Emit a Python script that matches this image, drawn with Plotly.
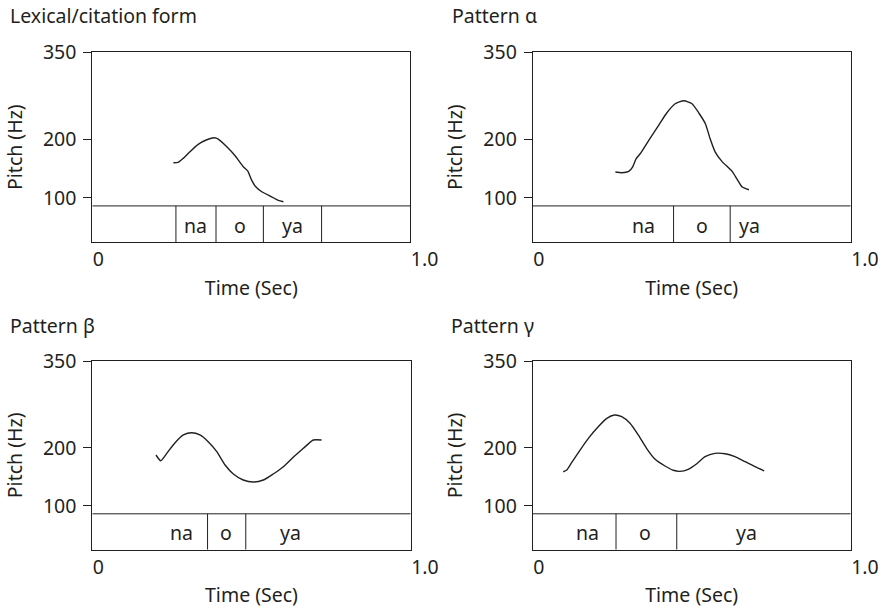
import plotly.graph_objects as go

# ---------------- data ----------------
panel_titles = ["Lexical/citation form", "Pattern α", "Pattern β", "Pattern γ"]

# pitch contours (time in s, pitch in Hz)
lex_t = [0.255, 0.270, 0.286, 0.307, 0.333, 0.360, 0.384, 0.396, 0.423, 0.449, 0.475,
         0.489, 0.501, 0.514, 0.533, 0.564, 0.585, 0.601]
lex_f = [160.2, 160.8, 167.7, 179.1, 191.8, 199.7, 203.1, 200.9, 187.7, 172.2, 153.3,
         145.9, 130.4, 118.9, 110.3, 101.7, 95.5, 93.1]

alpha_t = [0.260, 0.281, 0.302, 0.314, 0.325, 0.338, 0.365, 0.396, 0.422, 0.448, 0.475,
           0.501, 0.524, 0.543, 0.558, 0.574, 0.595, 0.627, 0.643, 0.659, 0.680]
alpha_f = [144.2, 143.0, 145.4, 152.8, 167.0, 175.6, 198.7, 224.4, 246.1, 261.6, 266.7,
           261.6, 244.4, 227.2, 201.4, 178.5, 162.6, 145.4, 131.6, 118.4, 113.8]

beta_t = [0.200, 0.215, 0.234, 0.260, 0.286, 0.312, 0.338, 0.364, 0.391, 0.417, 0.443,
          0.474, 0.506, 0.537, 0.568, 0.600, 0.631, 0.663, 0.694, 0.720]
beta_f = [187.6, 177.7, 190.5, 208.8, 222.2, 226.1, 222.2, 210.6, 193.3, 170.3, 154.8,
          144.4, 140.9, 144.4, 154.8, 167.4, 183.6, 199.2, 213.5, 213.5]

gamma_t = [0.096, 0.107, 0.123, 0.149, 0.175, 0.206, 0.233, 0.257, 0.280, 0.306, 0.332,
           0.358, 0.385, 0.416, 0.442, 0.463, 0.489, 0.516, 0.542, 0.573, 0.605, 0.636,
           0.668, 0.699, 0.728]
gamma_f = [158.7, 161.7, 175.0, 196.2, 216.4, 236.5, 251.0, 256.7, 253.8, 242.4, 222.2,
           199.2, 180.2, 168.6, 161.2, 159.4, 162.9, 172.6, 184.7, 190.5, 189.8, 184.7,
           176.0, 167.4, 160.0]

# segmentation tiers: boundaries and syllable labels (time in s)
lex_bounds = [0.263, 0.389, 0.538, 0.721]
alpha_bounds = [0.443, 0.621]
beta_bounds = [0.362, 0.482]
gamma_bounds = [0.262, 0.453]

syllables = ["na", "o", "ya"]
lex_label_t = [0.326, 0.463, 0.630]
alpha_label_t = [0.349, 0.532, 0.681]
beta_label_t = [0.281, 0.420, 0.623]
gamma_label_t = [0.173, 0.353, 0.672]

y_ticks = [100, 200, 350]
x_ticks = [0, 1]
x_ticktext = ["0", "1.0"]
y_min, y_max = 24, 350
tier_top = 86
tier_label_y = 53

# ---------------- layout ----------------
INK = "#231f20"
FONT = "Noto Sans"
FS = 19.5
W, H = 885, 609

contours = [(lex_t, lex_f), (alpha_t, alpha_f), (beta_t, beta_f), (gamma_t, gamma_f)]
bounds = [lex_bounds, alpha_bounds, beta_bounds, gamma_bounds]
label_ts = [lex_label_t, alpha_label_t, beta_label_t, gamma_label_t]

# pixel boxes (left, right, top, bottom)
boxes = [(92.3, 410.3, 52.3, 242.0), (532.7, 850.7, 52.3, 242.0),
         (92.3, 410.7, 361.0, 549.7), (532.7, 850.7, 361.0, 549.7)]
title_pos = [(8, 16), (450, 16), (8, 325), (449, 325)]

fig = go.Figure()
layout = dict(
    width=W, height=H, margin=dict(l=0, r=0, t=0, b=0, autoexpand=False),
    paper_bgcolor="white", plot_bgcolor="white", showlegend=False,
    font=dict(family=FONT, size=FS, color=INK),
)
annotations = []
shapes = []

for i in range(4):
    n = "" if i == 0 else str(i + 1)
    xa, ya = "x" + n, "y" + n
    l, r, t, b = boxes[i]
    layout["xaxis" + n] = dict(
        domain=[l / W, r / W], range=[0, 1], anchor=ya, automargin=False,
        showgrid=False, zeroline=False, showline=True, mirror=True,
        linecolor=INK, linewidth=1, ticks="",
        tickvals=x_ticks, ticktext=x_ticktext, ticklabelposition="outside right",
        tickfont=dict(size=FS, color=INK),
        title=dict(text="Time (Sec)", font=dict(size=FS, color=INK), standoff=9),
        fixedrange=True,
    )
    layout["yaxis" + n] = dict(
        domain=[1 - b / H, 1 - t / H], range=[y_min, y_max], anchor=xa, automargin=False,
        showgrid=False, zeroline=False, showline=True, mirror=True,
        linecolor=INK, linewidth=1, ticks="outside", ticklen=8, tickwidth=1, tickcolor=INK,
        tickvals=y_ticks, tickfont=dict(size=FS, color=INK), ticklabelstandoff=3,
        title=dict(text="Pitch (Hz)", font=dict(size=FS, color=INK), standoff=15),
        fixedrange=True,
    )
    tx, ty = contours[i]
    fig.add_trace(go.Scatter(x=tx, y=ty, xaxis=xa, yaxis=ya, mode="lines",
                             line=dict(color=INK, width=1.4, shape="spline", smoothing=0.6),
                             hoverinfo="skip"))
    # tier line
    shapes.append(dict(type="line", xref=xa, yref=ya, x0=0, x1=1, y0=tier_top, y1=tier_top,
                       line=dict(color=INK, width=1)))
    for bx in bounds[i]:
        shapes.append(dict(type="line", xref=xa, yref=ya, x0=bx, x1=bx, y0=y_min, y1=tier_top,
                           line=dict(color=INK, width=1)))
    for s, lt in zip(syllables, label_ts[i]):
        annotations.append(dict(x=lt, y=tier_label_y, xref=xa, yref=ya, text=s,
                                showarrow=False, font=dict(size=FS, color=INK),
                                xanchor="center", yanchor="middle"))
    px, py = title_pos[i]
    annotations.append(dict(x=px / W, y=1 - py / H, xref="paper", yref="paper",
                            text=panel_titles[i], showarrow=False,
                            font=dict(size=FS, color=INK), xanchor="left", yanchor="middle"))

layout["annotations"] = annotations
layout["shapes"] = shapes
fig.update_layout(**layout)
fig.write_html("out.html", config={"displayModeBar": False, "staticPlot": True},
               post_script="document.body.style.margin='0';document.body.style.overflow='hidden';")
